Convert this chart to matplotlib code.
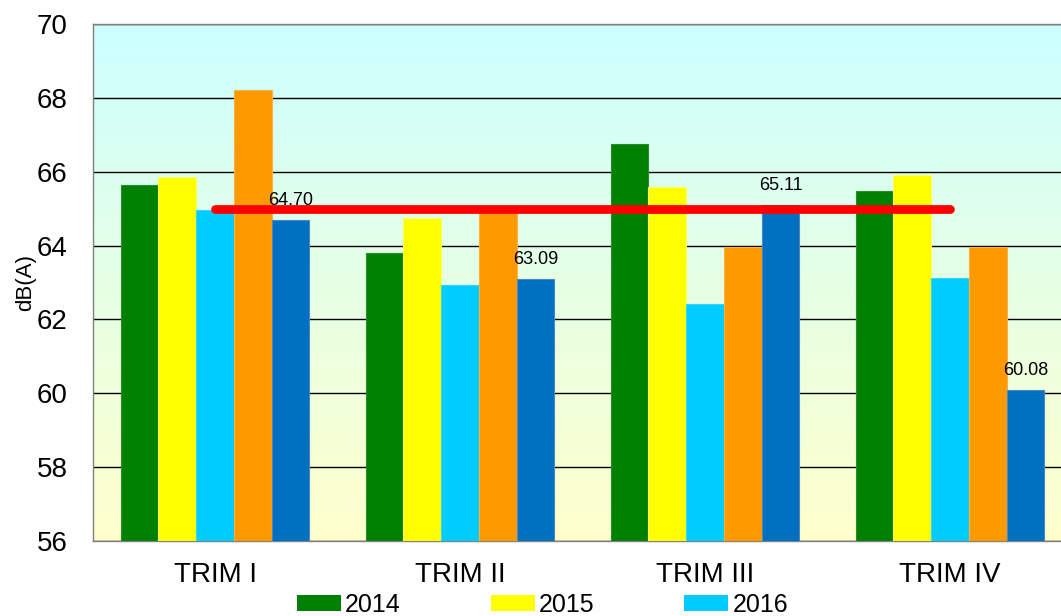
import matplotlib
matplotlib.use("Agg")
import matplotlib.pyplot as plt
import numpy as np
from matplotlib.patches import Patch
from matplotlib.colors import LinearSegmentedColormap

categories = ["TRIM I", "TRIM II", "TRIM III", "TRIM IV"]
series_names = ["2014", "2015", "2016", "2017", "2018"]
v2014 = [65.64, 63.80, 66.74, 65.47]
v2015 = [65.86, 64.76, 65.59, 65.90]
v2016 = [64.96, 62.93, 62.43, 63.11]
v2017 = [68.21, 64.93, 63.97, 63.97]
v2018 = [64.70, 63.09, 65.11, 60.08]
limit_value = 65.0
limit_span = [0, 3]
yticks = [56, 58, 60, 62, 64, 66, 68, 70]

colors = ["#008000", "#FFFF00", "#00CCFF", "#FF9900", "#0070C0"]
edges = ["#2E8B2E", "#FFFF66", "#33D6FF", "#FFB040", "#4A86C8"]

plt.rcParams['font.family'] = ['Liberation Sans', 'DejaVu Sans']

fig = plt.figure(figsize=(10.61, 6.16), dpi=100)
W, H = 1061, 616
left, right, top, bottom = 92.5, 1072.5, 24, 541
ax = fig.add_axes([left / W, 1 - bottom / H, (right - left) / W, (bottom - top) / H])

# gradient background
cmap = LinearSegmentedColormap.from_list("bg", ["#FFFFCC", "#CCFFFF"])
grad = np.linspace(0, 1, 256).reshape(-1, 1)
ax.imshow(grad, cmap=cmap, aspect="auto", extent=[0, 1, 0, 1], origin="lower",
          transform=ax.transAxes, zorder=0)

x = np.arange(len(categories))
bw = 0.154
all_vals = [v2014, v2015, v2016, v2017, v2018]
for i, vals in enumerate(all_vals):
    off = (i - 2) * bw
    ax.bar(x + off, np.array(vals) - 56, bottom=56, width=bw, color=colors[i],
           edgecolor=edges[i], linewidth=0.8, zorder=3)

for xi, v in zip(x, v2018):
    ax.text(xi + 2 * bw, v + 0.3, f"{v:.2f}", ha="center", va="bottom",
            fontsize=13, zorder=6)

ax.plot(limit_span, [limit_value, limit_value], color="#FF0000", linewidth=6.3,
        solid_capstyle="round", zorder=5)

ax.set_xlim(-0.5, 3.5)
ax.set_ylim(56, 70)
ax.set_yticks(yticks)
ax.set_yticklabels([str(t) for t in yticks], fontsize=20)
ax.set_xticks(x)
ax.set_xticklabels(categories, fontsize=20)
ax.tick_params(axis="both", length=0)
ax.tick_params(axis="y", pad=18)
ax.tick_params(axis="x", pad=15)
ax.yaxis.grid(True, color="#000000", linewidth=1.0, zorder=1)
ax.set_axisbelow(True)
for s in ["left", "top", "bottom", "right"]:
    ax.spines[s].set_color("#808080")
    ax.spines[s].set_linewidth(1.0)
ax.set_ylabel("dB(A)", fontsize=16)
ax.yaxis.set_label_coords((36 - left) / (right - left), 0.5)

handles = [Patch(facecolor=colors[i], edgecolor="none") for i in range(3)]
fig.legend(handles, series_names[:3], loc="center left", ncol=3,
           bbox_to_anchor=(297 / W, 1 - 605 / H), frameon=False, fontsize=18,
           handlelength=1.75, handleheight=0.6, handletextpad=0.17,
           columnspacing=3.6, borderaxespad=0, borderpad=0)

fig.savefig("out.png", dpi=100)
